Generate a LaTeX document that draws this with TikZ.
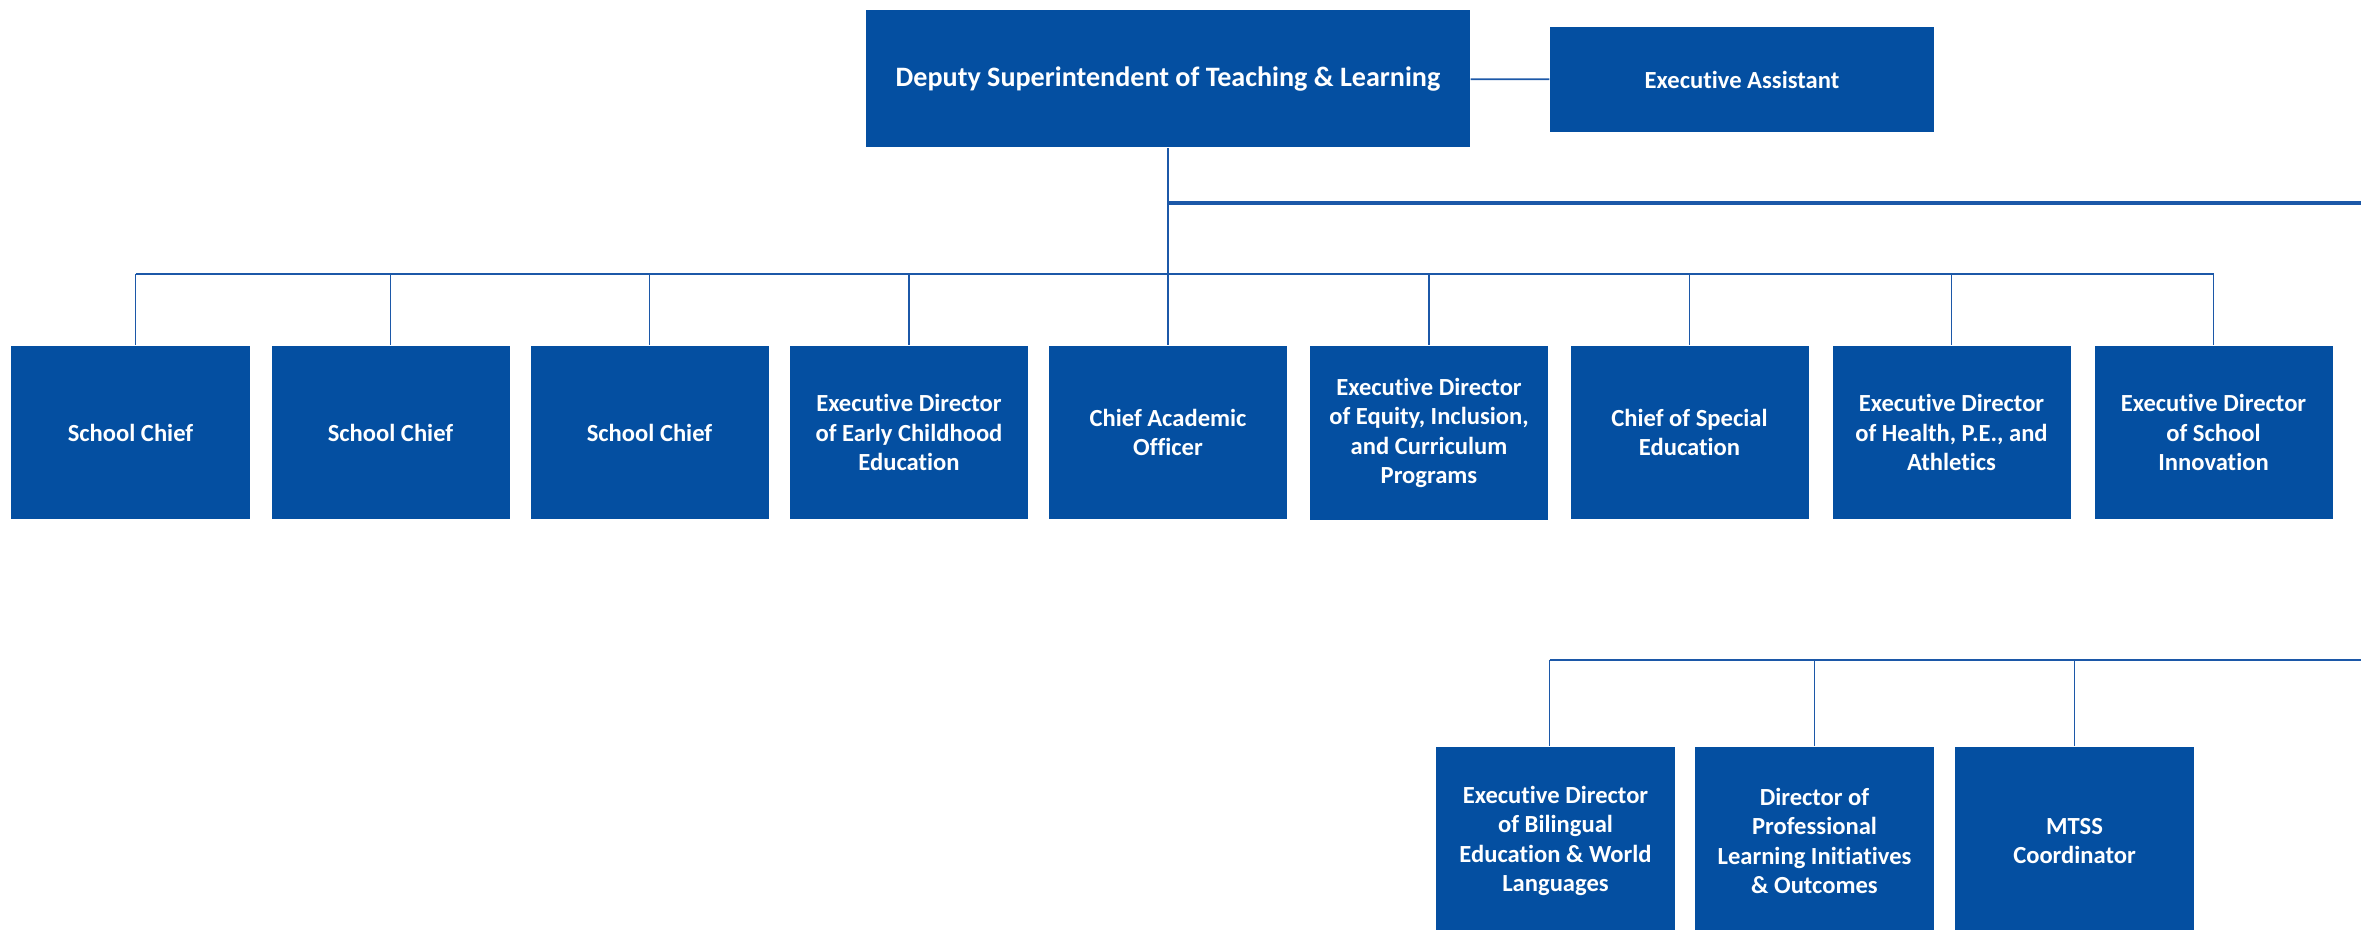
\documentclass[tikz,border=0pt]{standalone}
\usepackage{fontspec}
\setmainfont{Carlito}[Ligatures=NoCommon]
\definecolor{boxblue}{RGB}{4,79,161}
\definecolor{lineblue}{RGB}{28,88,168}
\tikzset{
  unit/.style={fill=boxblue, text=white, font=\bfseries\fontsize{7}{8.4}\selectfont,
    align=center, inner sep=0pt, minimum width=2.38cm, minimum height=1.73cm},
  lowunit/.style={unit, minimum width=2.39cm, minimum height=1.88cm},
  link/.style={draw=lineblue, line width=0.5pt},
  bus/.style={draw=lineblue, line width=0.75pt},
  heavybus/.style={draw=lineblue, line width=1pt}
}
\begin{document}
\begin{tikzpicture}
  \useasboundingbox (0,0) rectangle (23.61,9.30);
  % top
  \node[unit, minimum width=6.04cm, minimum height=1.37cm, font=\bfseries\fontsize{8}{9.6}\selectfont] (deputy) at (11.68,8.51) {Deputy Superintendent of Teaching \& Learning};
  \node[unit, minimum width=3.84cm, minimum height=1.05cm] (assistant) at (17.42,8.505) {Executive Assistant};
  \draw[link] (deputy) -- (assistant);
  % first row
  \node[unit] (chiefA) at (1.305,4.975) {School Chief};
  \node[unit] (chiefB) at (3.905,4.975) {School Chief};
  \node[unit] (chiefC) at (6.495,4.975) {School Chief};
  \node[unit] (early) at (9.09,4.975) {Executive Director\\of Early Childhood\\Education};
  \node[unit] (academic) at (11.68,4.975) {Chief Academic\\Officer};
  \node[unit, minimum height=1.74cm] (equity) at (14.29,4.97) {Executive Director\\of Equity, Inclusion,\\and Curriculum\\Programs};
  \node[unit] (special) at (16.895,4.975) {Chief of Special\\Education};
  \node[unit] (health) at (19.515,4.975) {Executive Director\\of Health, P.E., and\\Athletics};
  \node[unit] (innovation) at (22.135,4.975) {Executive Director\\of School\\Innovation};
  \coordinate (rowbus) at (11.68,6.56);
  \coordinate (sidebus) at (23.61,7.27);
  \draw[link] (deputy.south) -- (rowbus);
  \draw[bus] ([xshift=0.05cm]chiefA.north |- rowbus) -- (innovation.north |- rowbus);
  \draw[link] ([xshift=0.05cm]chiefA.north |- rowbus) -- ([xshift=0.05cm]chiefA.north);
  \foreach \n in {chiefB,chiefC,early,academic,equity,special,health,innovation}
    \draw[link] (\n.north |- rowbus) -- (\n.north);
  \draw[heavybus] (deputy.south |- sidebus) -- (sidebus);
  % second row
  \node[lowunit] (bilingual) at (15.555,0.89) {Executive Director\\of Bilingual\\Education \& World\\Languages};
  \node[lowunit] (learning) at (18.145,0.89) {Director of\\Professional\\Learning Initiatives\\\& Outcomes};
  \node[lowunit] (mtss) at (20.745,0.89) {MTSS\\Coordinator};
  \coordinate (lowbus) at (23.61,2.70);
  \draw[bus] ([xshift=-0.06cm]bilingual.north |- lowbus) -- (lowbus);
  \draw[link] ([xshift=-0.06cm]bilingual.north |- lowbus) -- ([xshift=-0.06cm]bilingual.north);
  \foreach \n in {learning,mtss}
    \draw[link] (\n.north |- lowbus) -- (\n.north);
\end{tikzpicture}
\end{document}
